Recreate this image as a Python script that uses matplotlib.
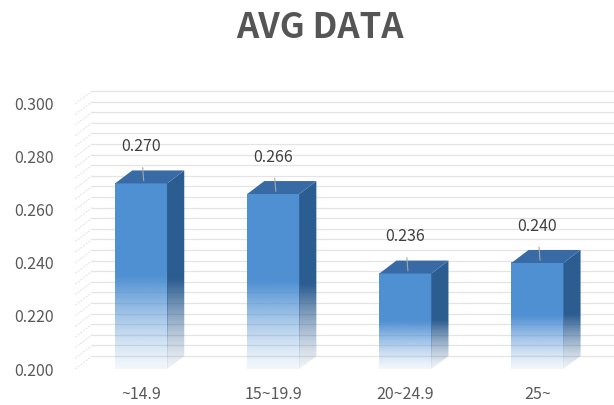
import numpy as np
import matplotlib
matplotlib.use("Agg")
from matplotlib import pyplot as plt
from matplotlib.patches import Polygon
from matplotlib.colors import to_rgb

categories = ["~14.9", "15~19.9", "20~24.9", "25~"]
values = [0.270, 0.266, 0.236, 0.240]
y_ticks = [0.200, 0.220, 0.240, 0.260, 0.280, 0.300]

plt.rcParams["font.family"] = ["Noto Sans CJK KR", "DejaVu Sans"]

# 3D look: depth offset of the back plane
dx = 0.13      # in category units
dy = 0.0049    # in value units
half_w = 0.197
y0 = 0.200

front_col = "#4f90d3"
side_col = "#2c5d91"
top_col = "#386ba5"
grid_col = "#e4e4e4"

fig = plt.figure(figsize=(6.14, 4.05), dpi=100)
ax = fig.add_axes([75 / 614, 36 / 405, 1 - 75 / 614, (369 - 88) / 405])
ax.set_xlim(-0.5, 3.58)
ax.set_ylim(y0, 0.306)

# back wall gridlines with slanted side-wall part
for g in np.arange(0.200, 0.3001, 0.004):
    ax.plot([-0.5, -0.5 + dx], [g, g + dy], color="#e6e6e6", lw=0.8,
            ls=(0, (2, 1)), zorder=1)
    ax.plot([-0.5 + dx, 3.58], [g + dy, g + dy], color=grid_col, lw=0.9, zorder=1)


def gradient_img(col, n=200, solid=0.5):
    # top part solid, lower part fading to near white
    r, g, b = to_rgb(col)
    t = np.linspace(0, 1, n)  # 0 bottom, 1 top
    a = np.clip(t / solid, 0, 1) ** 1.3
    a = 0.08 + 0.92 * a
    img = np.zeros((n, 1, 4))
    img[:, 0, 0] = r
    img[:, 0, 1] = g
    img[:, 0, 2] = b
    img[:, 0, 3] = a
    return img


for i, v in enumerate(values):
    x0, x1 = i - half_w, i + half_w
    # front face
    ax.imshow(gradient_img(front_col), extent=[x0, x1, y0, v], origin="lower",
              aspect="auto", interpolation="bilinear", zorder=3)
    # side face
    side = Polygon([(x1, y0), (x1 + dx, y0 + dy), (x1 + dx, v + dy), (x1, v)],
                   closed=True, facecolor="none", edgecolor="none")
    ax.add_patch(side)
    im = ax.imshow(gradient_img(side_col, solid=0.45), extent=[x1, x1 + dx, y0, v + dy],
                   origin="lower", aspect="auto", interpolation="bilinear", zorder=3)
    im.set_clip_path(side)
    # top face
    ax.add_patch(Polygon([(x0, v), (x1, v), (x1 + dx, v + dy), (x0 + dx, v + dy)],
                         closed=True, facecolor=top_col, edgecolor="none", zorder=4))
    # value label with leader line
    ax.annotate(f"{v:.3f}", xy=(i + 0.02, v + 0.001), xytext=(i, v + dy + 0.009),
                ha="center", va="center", fontsize=11.5, color="#404040", zorder=6,
                arrowprops=dict(arrowstyle="-", color="#a6a6a6", lw=0.8,
                                shrinkA=7, shrinkB=0))

ax.set_xlim(-0.5, 3.58)
ax.set_ylim(y0, 0.306)
ax.set_xticks(range(len(categories)))
ax.set_xticklabels(categories)
ax.set_yticks(y_ticks)
ax.set_yticklabels([f"{t:.3f}" for t in y_ticks])
ax.tick_params(axis="both", length=0, labelsize=11.5, labelcolor="#595959")
ax.tick_params(axis="y", pad=15)
ax.tick_params(axis="x", pad=12)
for s in ax.spines.values():
    s.set_visible(False)

fig.text(320 / 614, 1 - 28 / 405, "AVG DATA", ha="center", va="center",
         fontsize=25, fontweight="bold", color="#555555")

fig.savefig("out.png", dpi=100)
